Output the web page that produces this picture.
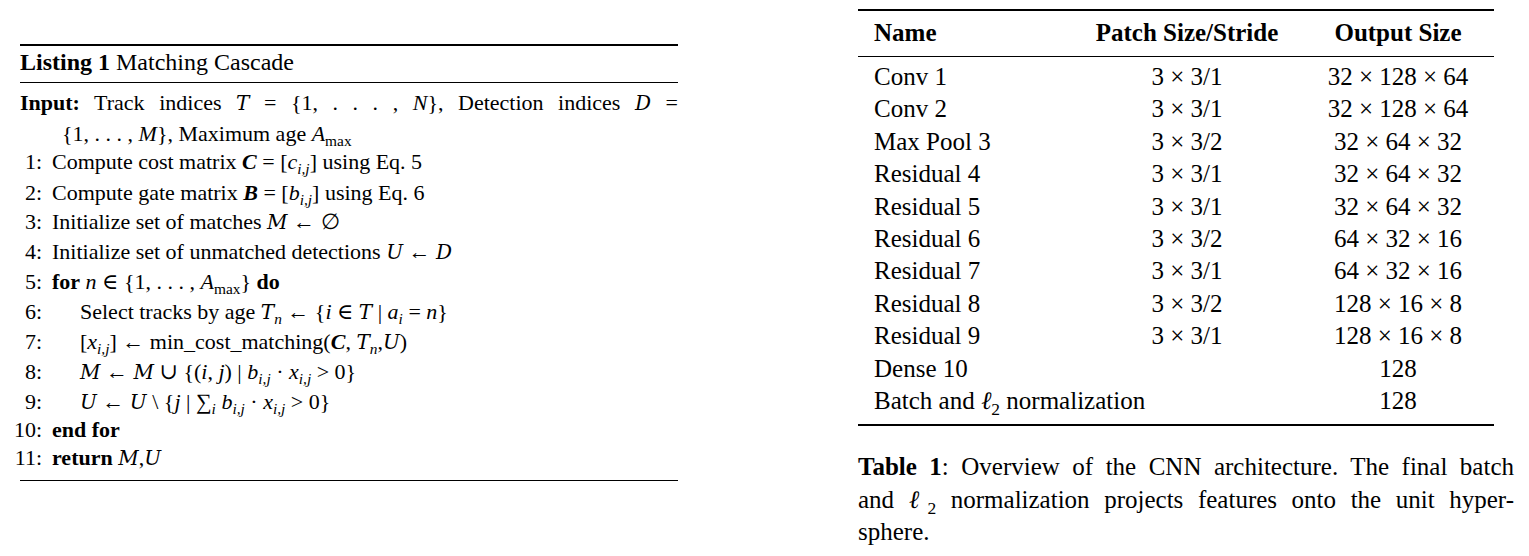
<!DOCTYPE html>
<html>
<head>
<meta charset="utf-8">
<script src="https://cdn.jsdelivr.net/npm/chart.js@4"></script>
<style>
  body { margin: 0; width: 1529px; height: 556px; background: #fff; font-family: "Liberation Serif", "DejaVu Serif", serif; color: #000; position: relative; overflow: hidden; }
  .abs { position: absolute; white-space: nowrap; line-height: 28px; }
  .rule { position: absolute; background: #000; }
  i { font-style: italic; }
  sub { line-height: 0; font-size: 70%; }
  .num { display: inline-block; width: 38px; text-align: right; margin-right: 10px; }
  .cal { font-family: "DejaVu Serif", serif; font-style: italic; font-size: 20px; }
  .jl { text-align: justify; text-align-last: justify; white-space: normal; }
</style>
</head>
<body>
<canvas id="dummy" width="1" height="1" style="position:absolute;left:0;top:0"></canvas>
<div id="root"></div>
<script>
const listingNums = ["1:", "2:", "3:", "4:", "5:", "6:", "7:", "8:", "9:", "10:", "11:"];
const listingText = [
  'Compute cost matrix <b><i>C</i></b> = [<i>c</i><sub><i>i,j</i></sub>] using Eq. 5',
  'Compute gate matrix <b><i>B</i></b> = [<i>b</i><sub><i>i,j</i></sub>] using Eq. 6',
  'Initialize set of matches <span class="cal">M</span> ← ∅',
  'Initialize set of unmatched detections <span class="cal">U</span> ← <span class="cal">D</span>',
  '<b>for</b> <i>n</i> ∈ {1, . . . , <i>A</i><sub>max</sub>} <b>do</b>',
  'Select tracks by age <span class="cal">T</span><sub><i>n</i></sub> ← {<i>i</i> ∈ <span class="cal">T</span> | <i>a<sub>i</sub></i> = <i>n</i>}',
  '[<i>x</i><sub><i>i,j</i></sub>] ← min_cost_matching(<b><i>C</i></b>, <span class="cal">T</span><sub><i>n</i></sub>,<span class="cal">U</span>)',
  '<span class="cal">M</span> ← <span class="cal">M</span> ∪ {(<i>i</i>, <i>j</i>) | <i>b</i><sub><i>i,j</i></sub> · <i>x</i><sub><i>i,j</i></sub> &gt; 0}',
  '<span class="cal">U</span> ← <span class="cal">U</span> \\ {<i>j</i> | ∑<sub><i>i</i></sub> <i>b</i><sub><i>i,j</i></sub> · <i>x</i><sub><i>i,j</i></sub> &gt; 0}',
  '<b>end for</b>',
  '<b>return</b> <span class="cal">M</span>,<span class="cal">U</span>'
];
const listingIndent = [0, 0, 0, 0, 0, 1, 1, 1, 1, 0, 0];
const listingTop = [148, 179, 208, 238, 268, 298, 328, 358, 388, 416, 444];

const tableNames = ["Conv 1", "Conv 2", "Max Pool 3", "Residual 4", "Residual 5", "Residual 6", "Residual 7", "Residual 8", "Residual 9", "Dense 10", 'Batch and <i>ℓ</i><sub>2</sub> normalization'];
const tablePatch = ["3 × 3/1", "3 × 3/1", "3 × 3/2", "3 × 3/1", "3 × 3/1", "3 × 3/2", "3 × 3/1", "3 × 3/2", "3 × 3/1", "", ""];
const tableOutput = ["32 × 128 × 64", "32 × 128 × 64", "32 × 64 × 32", "32 × 64 × 32", "32 × 64 × 32", "64 × 32 × 16", "64 × 32 × 16", "128 × 16 × 8", "128 × 16 × 8", "128", "128"];

const root = document.getElementById("root");
let html = "";
const rule = (x, y, w, h) => `<div class="rule" style="left:${x}px;top:${y}px;width:${w}px;height:${h}px"></div>`;
const txt = (x, y, s, extra) => `<div class="abs" style="left:${x}px;top:${y}px;font-size:22px;${extra || ""}">${s}</div>`;

// left listing
html += rule(20, 44, 658, 2);
html += txt(20, 48, '<b>Listing 1</b> Matching Cascade', 'font-size:24px');
html += rule(20, 82, 658, 1);
html += `<div class="abs jl" style="left:20px;top:89px;width:658px;font-size:22px"><b>Input:</b> Track indices <span class="cal">T</span> = {1, . . . , <i>N</i>}, Detection indices <span class="cal">D</span> =</div>`;
html += txt(62, 120, '{1, . . . , <i>M</i>}, Maximum age <i>A</i><sub>max</sub>');
listingText.forEach((t, k) => {
  html += `<div class="abs" style="left:4px;top:${listingTop[k]}px;font-size:22px"><span class="num">${listingNums[k]}</span><span style="margin-left:${listingIndent[k] * 28}px">${t}</span></div>`;
});
html += rule(20, 480, 658, 1);

// right table
const TF = 'font-size:25px';
html += rule(858, 9, 636, 2);
html += txt(874, 19, '<b>Name</b>', TF);
html += `<div class="abs" style="left:1087px;top:19px;width:200px;text-align:center;${TF}"><b>Patch Size/Stride</b></div>`;
html += `<div class="abs" style="left:1298px;top:19px;width:200px;text-align:center;${TF}"><b>Output Size</b></div>`;
html += rule(858, 56, 636, 1);
tableNames.forEach((n, k) => {
  const y = 63 + k * 32.4;
  html += txt(874, y, n, TF);
  html += `<div class="abs" style="left:1087px;top:${y}px;width:200px;text-align:center;${TF}">${tablePatch[k]}</div>`;
  html += `<div class="abs" style="left:1298px;top:${y}px;width:200px;text-align:center;${TF}">${tableOutput[k]}</div>`;
});
html += rule(858, 424, 636, 2);
const capLines = [
  '<b>Table 1</b>: Overview of the CNN architecture. The final batch',
  'and <i>ℓ</i><sub>2</sub> normalization projects features onto the unit hyper-',
  'sphere.'
];
capLines.forEach((c, k) => {
  html += `<div class="abs ${k < 2 ? 'jl' : ''}" style="left:858px;top:${453 + k * 32.5}px;width:656px;${TF}">${c}</div>`;
});

root.innerHTML = html;
</script>
</body>
</html>
